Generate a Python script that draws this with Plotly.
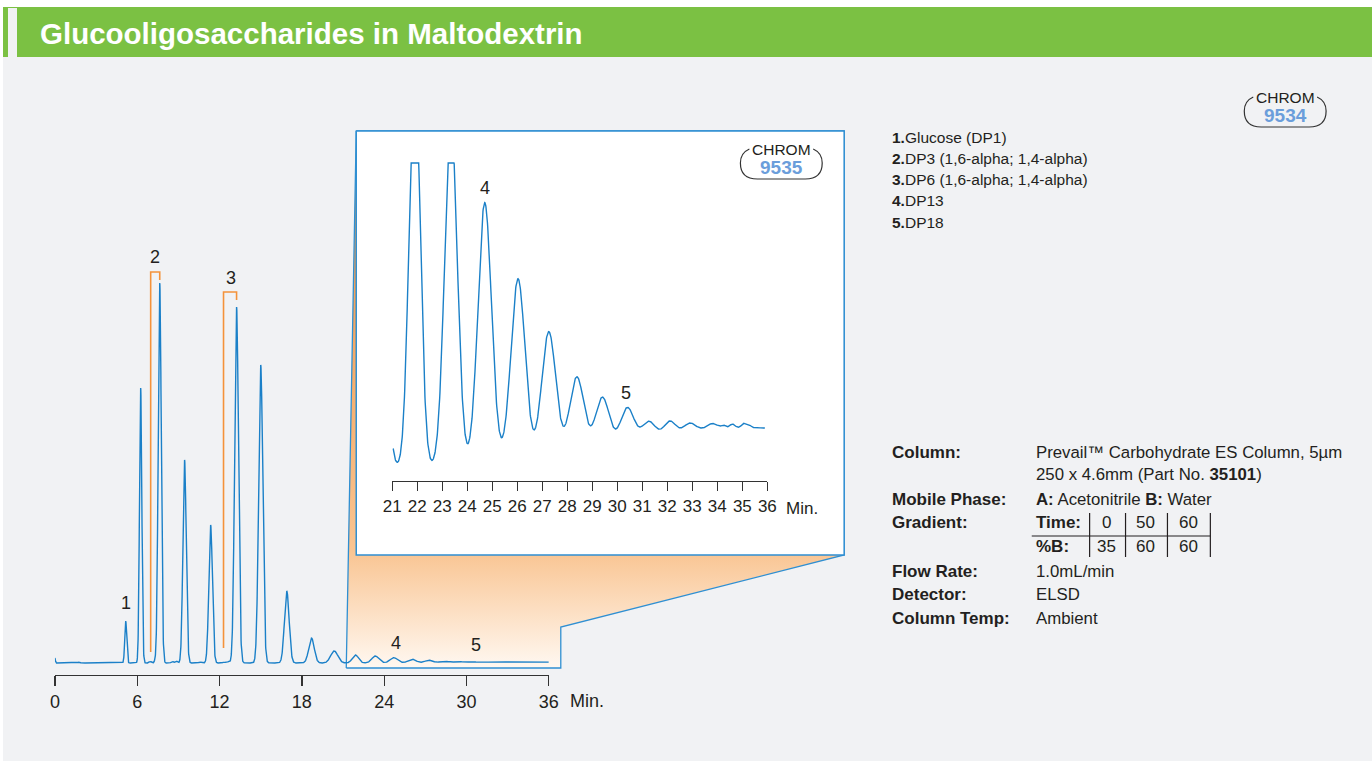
import numpy as np
import plotly.graph_objects as go

# ---------------- data ----------------
# peak table: retention time (min), height (detector units), width sigma (min)
peak_time   = [0.00, 1.75, 5.16, 6.25, 6.95, 7.30, 7.64, 8.55, 8.85, 9.45, 10.60, 11.35,
               12.35, 12.65, 13.24, 15.00, 16.90, 18.70, 20.36, 21.90, 23.35, 24.70,
               26.03, 27.26, 28.38, 29.40, 30.40, 31.25, 32.10, 32.90, 33.80, 34.25,
               34.60, 35.05, 35.25, 35.00]
peak_height = [5.0, 0.8, 42, 275, 1.5, 2.0, 380, 1.5, 2.0, 203, 1.0, 138,
               1.0, 1.2, 356, 298, 72, 25, 12, 8.0, 6.9, 5.2,
               3.6, 2.45, 1.45, 0.95, 0.65, 0.30, 0.24, 0.15, 0.10, 0.05,
               0.07, 0.08, 0.06, 0.85]
peak_sigma  = [0.03, 0.08, 0.07, 0.085, 0.08, 0.06, 0.11, 0.08, 0.08, 0.12, 0.10, 0.13,
               0.10, 0.10, 0.14, 0.15, 0.17, 0.20, 0.26, 0.22, 0.25, 0.27,
               0.28, 0.28, 0.28, 0.27, 0.26, 0.25, 0.22, 0.22, 0.20, 0.08,
               0.10, 0.08, 0.08, 5.5]

main_ticks = [0, 6, 12, 18, 24, 30, 36]
inset_ticks = list(range(21, 37))
inset_window = [21.04, 35.9]
inset_saturation = 6.14

peak_numbers = ["1", "2", "3", "4", "5"]
peak_names = ["Glucose (DP1)", "DP3 (1,6-alpha; 1,4-alpha)", "DP6 (1,6-alpha; 1,4-alpha)",
              "DP13", "DP18"]

method_labels = ["Column:", "Mobile Phase:", "Gradient:", "Flow Rate:", "Detector:", "Column Temp:"]
method_values = ["Prevail™ Carbohydrate ES Column, 5µm<br>250 x 4.6mm (Part No. <b>35101</b>)",
                 "<b>A:</b> Acetonitrile <b>B:</b> Water", "", "1.0mL/min", "ELSD", "Ambient"]
gradient_time = [0, 50, 60]
gradient_B = [35, 60, 60]

title = "Glucooligosaccharides in Maltodextrin"
chrom_ids = ["9534", "9535"]

# ---------------- build curve ----------------
t = np.round(np.arange(0, 36.0001, 0.01), 2)
signal = np.zeros_like(t)
for c, h, s in zip(peak_time, peak_height, peak_sigma):
    signal += h * np.exp(-0.5 * ((t - c) / s) ** 2)

mask = (t >= inset_window[0]) & (t <= inset_window[1])
t_in = t[mask]
s_in = np.minimum(signal[mask], inset_saturation)

# ---------------- style / page geometry ----------------
# Positions below are window pixels; the figure appears in the window with its
# left edge at x=16 and its top edge at y=8.
X0, Y0 = 16, 8
W, H = 1372, 753
PW = W - X0                # drawn width
def px(X):                 # window x -> paper fraction
    return (X - X0) / PW
def py(Y):                 # window y -> paper fraction
    return 1 - (Y - Y0) / H

FONT = "Liberation Sans"
TXT = "#231f20"
BLUE = "#1b80c8"
EDGE = "#2f8fd2"
ORANGE = "#f4923a"
BG = "#f1f2f4"
GREEN = "#7bc143"

fig = go.Figure()

# decoration layer (window-pixel axis)
fig.add_trace(go.Scatter(
    x=[346, 356, 845, 845, 561, 561, 346], y=[668, 131, 131, 555, 627, 668, 668],
    mode="lines", fill="toself", line=dict(color=EDGE, width=1.3),
    fillgradient=dict(type="vertical", start=668, stop=131,
                      colorscale=[[0, "#fff8f1"], [0.22, "#f9c491"], [1, "#f38d35"]]),
    hoverinfo="skip", showlegend=False, xaxis="x", yaxis="y"))
fig.add_trace(go.Scatter(
    x=[356, 845, 845, 356, 356], y=[131, 131, 555, 555, 131],
    mode="lines", fill="toself", fillcolor="white", line=dict(color=EDGE, width=1.5),
    hoverinfo="skip", showlegend=False, xaxis="x", yaxis="y"))

# main chromatogram
fig.add_trace(go.Scatter(x=t, y=signal, mode="lines", line=dict(color=BLUE, width=1.4),
                         showlegend=False, xaxis="x2", yaxis="y2"))
# inset chromatogram
fig.add_trace(go.Scatter(x=t_in, y=s_in, mode="lines", line=dict(color=BLUE, width=1.4),
                         showlegend=False, xaxis="x3", yaxis="y3"))

shapes = []
annotations = []

# header band across the whole paper (background gray is the paper colour)
shapes.append(dict(type="rect", xref="paper", yref="paper", x0=0, x1=1, y0=py(57), y1=1,
                   fillcolor=GREEN, line=dict(width=0), layer="below"))
annotations.append(dict(xref="x", yref="y", x=37, y=33, text="<b>" + title + "</b>",
                        showarrow=False, xanchor="left", yanchor="middle",
                        font=dict(family=FONT, size=29.5, color="white")))

# brackets for peaks 2 and 3 (main axis coordinates)
for x0, x1, yb, yt, ye in [(6.98, 7.64, 11, 391, 383), (12.29, 13.24, 15, 371, 363)]:
    shapes.append(dict(type="path", xref="x2", yref="y2",
                       path=f"M {x0},{yb} L {x0},{yt} L {x1},{yt} L {x1},{ye}",
                       line=dict(color=ORANGE, width=1.6), layer="above"))

# peak number labels
main_lbl = [(5.16, 60), (7.27, 406), (12.8, 385), (24.87, 20), (30.7, 18)]
for n, (lx, ly) in zip(peak_numbers, main_lbl):
    annotations.append(dict(xref="x2", yref="y2", x=lx, y=ly, text=n, showarrow=False,
                            font=dict(family=FONT, size=18, color=TXT)))
inset_lbl = {"4": (24.72, 5.64), "5": (30.33, 1.54)}
for n, (lx, ly) in inset_lbl.items():
    annotations.append(dict(xref="x3", yref="y3", x=lx, y=ly, text=n, showarrow=False,
                            font=dict(family=FONT, size=18, color=TXT)))

# "Min." unit labels
annotations.append(dict(xref="x", yref="y", x=568, y=701, text="Min.", showarrow=False,
                        xanchor="left", yanchor="middle", font=dict(family=FONT, size=18, color=TXT)))
annotations.append(dict(xref="x", yref="y", x=785, y=508, text="Min.", showarrow=False,
                        xanchor="left", yanchor="middle", font=dict(family=FONT, size=17, color=TXT)))

# CHROM badges
def badge(cx, cy, num):
    shapes.append(dict(type="path", xref="x", yref="y",
                       path=(f"M {cx-32},{cy-1} Q {cx-41},{cy+3} {cx-41},{cy+13} "
                             f"Q {cx-41},{cy+29} {cx-24},{cy+29} L {cx+24},{cy+29} "
                             f"Q {cx+41},{cy+29} {cx+41},{cy+13} Q {cx+41},{cy+3} {cx+32},{cy-1}"),
                       line=dict(color="#333333", width=1.2), layer="above"))
    annotations.append(dict(xref="x", yref="y", x=cx, y=cy - 1, text="CHROM", showarrow=False,
                            yanchor="middle", font=dict(family=FONT, size=15.5, color=TXT)))
    annotations.append(dict(xref="x", yref="y", x=cx, y=cy + 17.5, text="<b>" + num + "</b>",
                            showarrow=False, yanchor="middle",
                            font=dict(family=FONT, size=19, color="#6b9edb")))

badge(1287, 98, chrom_ids[0])
badge(782, 150, chrom_ids[1])

# peak list
for i, (n, name) in enumerate(zip(peak_numbers, peak_names)):
    annotations.append(dict(xref="x", yref="y", x=891, y=137 + i * 21.3,
                            text=f"<b>{n}.</b>{name}", showarrow=False,
                            xanchor="left", yanchor="middle",
                            font=dict(family=FONT, size=15.5, color=TXT)))

# method block
label_y = [452, 499, 522, 571, 594, 618]
for lab, val, yy in zip(method_labels, method_values, label_y):
    annotations.append(dict(xref="x", yref="y", x=891, y=yy, text="<b>" + lab + "</b>",
                            showarrow=False, xanchor="left", yanchor="middle",
                            font=dict(family=FONT, size=17, color=TXT)))
    if val:
        annotations.append(dict(xref="x", yref="y", x=1035, y=yy, text=val,
                                showarrow=False, xanchor="left",
                                yanchor="top" if "<br>" in val else "middle",
                                yshift=11 if "<br>" in val else 0, align="left",
                                font=dict(family=FONT, size=16.8, color=TXT)))

# gradient table
col_x = [1108, 1147, 1190]
annotations.append(dict(xref="x", yref="y", x=1035, y=522, text="<b>Time:</b>", showarrow=False,
                        xanchor="left", yanchor="middle", font=dict(family=FONT, size=17, color=TXT)))
annotations.append(dict(xref="x", yref="y", x=1035, y=546, text="<b>%B:</b>", showarrow=False,
                        xanchor="left", yanchor="middle", font=dict(family=FONT, size=17, color=TXT)))
for cx, tv, bv in zip(col_x, gradient_time, gradient_B):
    annotations.append(dict(xref="x", yref="y", x=cx, y=522, text=str(tv), showarrow=False,
                            yanchor="middle", font=dict(family=FONT, size=17, color=TXT)))
    annotations.append(dict(xref="x", yref="y", x=cx, y=546, text=str(bv), showarrow=False,
                            yanchor="middle", font=dict(family=FONT, size=17, color=TXT)))
shapes.append(dict(type="line", xref="x", yref="y", x0=1033, x1=1212, y0=536, y1=536,
                   line=dict(color=TXT, width=1.2)))
for sx in [1091, 1127, 1169, 1212]:
    shapes.append(dict(type="line", xref="x", yref="y", x0=sx, x1=sx, y0=513, y1=557,
                       line=dict(color=TXT, width=1.2)))

axis_common = dict(showgrid=False, zeroline=False, showline=True, linecolor="#333333",
                   linewidth=1.3, ticks="outside", tickcolor="#333333", tickwidth=1.3,
                   fixedrange=True)

fig.update_layout(
    width=W, height=H, autosize=False,
    margin=dict(l=0, r=0, t=0, b=0, pad=0),
    paper_bgcolor=BG, plot_bgcolor="rgba(0,0,0,0)",
    font=dict(family=FONT, color=TXT),
    xaxis=dict(domain=[0, 1], range=[X0, X0 + PW], visible=False, fixedrange=True),
    yaxis=dict(domain=[0, 1], range=[Y0 + H, Y0], visible=False, fixedrange=True),
    xaxis2=dict(domain=[px(54), px(549)], anchor="y2", range=[0, 36], tickvals=main_ticks,
                ticklen=10, tickfont=dict(size=18, family=FONT, color=TXT), **axis_common),
    yaxis2=dict(domain=[py(675), py(131)], anchor="x2", range=[-12, 532],
                visible=False, fixedrange=True),
    xaxis3=dict(domain=[px(392), px(768)], anchor="y3", range=[21, 36], tickvals=inset_ticks,
                ticklen=9, tickfont=dict(size=17, family=FONT, color=TXT), **axis_common),
    yaxis3=dict(domain=[py(481), py(150)], anchor="x3", range=[-0.22, 6.4],
                visible=False, fixedrange=True),
    shapes=shapes, annotations=annotations, showlegend=False,
)

page_bg = ("linear-gradient(to right, #ffffff 0px, #ffffff 3px, rgba(255,255,255,0) 3px), "
           "linear-gradient(to bottom, #ffffff 0px, #ffffff 7px, %s 7px, %s 57px, %s 57px)"
           % (GREEN, GREEN, BG))
fig.write_html("out.html", config={"displayModeBar": False, "staticPlot": True},
               post_script="document.documentElement.style.background='%s';"
                           "document.body.style.background='%s';" % (page_bg, page_bg))
